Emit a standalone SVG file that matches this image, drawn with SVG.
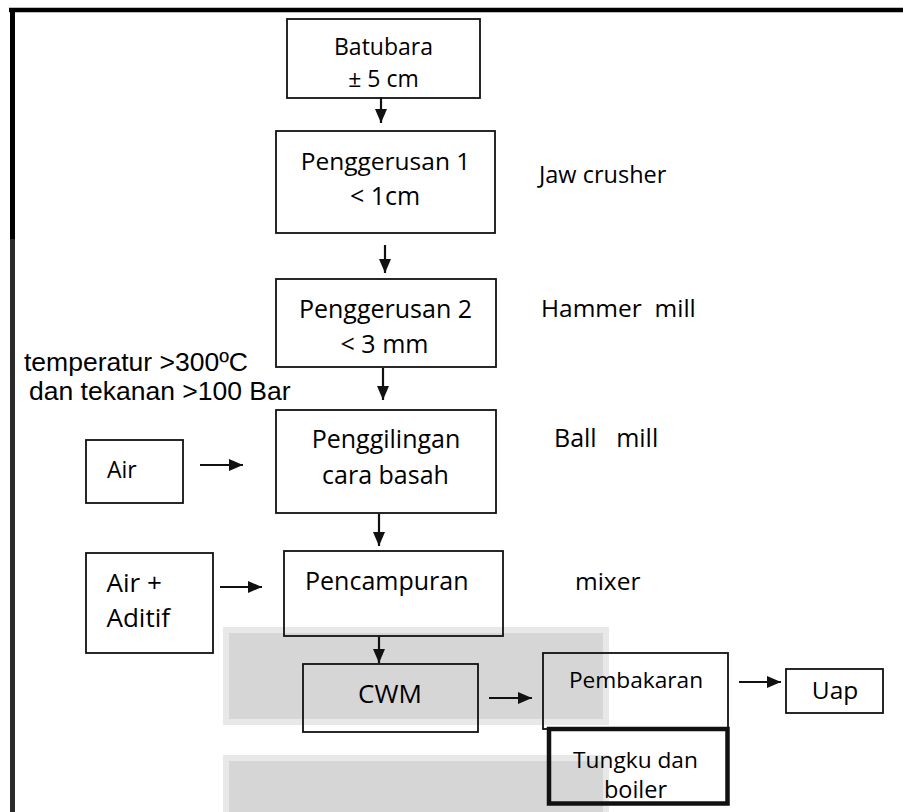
<svg xmlns="http://www.w3.org/2000/svg" width="903" height="812" viewBox="0 0 903 812">
<style>
.bg{fill:#ffffff}
.wm1{fill:#e8e8e8}
.wm2{fill:#d6d6d6}
.box{fill:none;stroke:#111111;stroke-width:1.8}
.thick{fill:none;stroke:#111111;stroke-width:4.5}
.t{font-family:"Open Sans","Noto Sans",sans-serif;font-size:25px;fill:#000000}
.c{text-anchor:middle}
.a{font-family:"Liberation Sans",Arial,sans-serif;font-size:26.5px;fill:#000000}
.pre{white-space:pre}
.con line{stroke:#111111;stroke-width:2.2;marker-end:url(#ah)}
</style>
<defs>
<marker id="ah" markerUnits="userSpaceOnUse" markerWidth="14" markerHeight="12" refX="14" refY="6" orient="auto">
<path d="M0,0 L14,6 L0,12 z" fill="#111111"/>
</marker>
</defs>
<rect class="bg" x="0" y="0" width="903" height="812"/>
<g id="watermark">
<rect class="wm1" x="223" y="627" width="386" height="98"/>
<rect class="wm2" x="229" y="633" width="374" height="86"/>
<rect class="wm1" x="223" y="755" width="386" height="57"/>
<rect class="wm2" x="229" y="761" width="374" height="51"/>
</g>
<g id="frame">
<line x1="9" y1="10" x2="903" y2="10" stroke="#000" stroke-width="4.5"/>
<line x1="12.5" y1="8" x2="12.5" y2="239" stroke="#000" stroke-width="5"/>
<line x1="12.5" y1="239" x2="12.5" y2="812" stroke="#2a2a2a" stroke-width="5"/>
</g>
<g id="batubara">
<rect class="box" x="287" y="19" width="193" height="79"/>
<text class="t c" x="383.5" y="55" style="font-size:23px">Batubara</text>
<text class="t c" x="383.5" y="87" style="font-size:23px">± 5 cm</text>
</g>
<g id="penggerusan1">
<rect class="box" x="276" y="131" width="219" height="102"/>
<text class="t c" x="385.5" y="170" style="font-size:24.5px">Penggerusan 1</text>
<text class="t c" x="385" y="205">&lt; 1cm</text>
</g>
<g id="label-jaw">
<text class="t" x="539" y="183" style="font-size:23.5px">Jaw crusher</text>
</g>
<g id="penggerusan2">
<rect class="box" x="276" y="279" width="220" height="88"/>
<text class="t c" x="385.5" y="317.5">Penggerusan 2</text>
<text class="t c" x="384.5" y="352.5">&lt; 3 mm</text>
</g>
<g id="label-hammer">
<text class="t pre" x="541" y="316.5" style="font-size:24.5px">Hammer  mill</text>
</g>
<g id="label-kondisi">
<text class="a" x="24" y="371">temperatur &gt;300ºC</text>
<text class="a" x="29" y="400">dan tekanan &gt;100 Bar</text>
</g>
<g id="penggilingan">
<rect class="box" x="276" y="410" width="220" height="103"/>
<text class="t c" x="386" y="448">Penggilingan</text>
<text class="t c" x="385.5" y="484">cara basah</text>
</g>
<g id="label-ball">
<text class="t pre" x="554" y="447">Ball   mill</text>
</g>
<g id="air">
<rect class="box" x="86" y="440" width="97" height="63"/>
<text class="t" x="107" y="478" style="font-size:23px">Air</text>
</g>
<g id="air-aditif">
<rect class="box" x="86" y="553" width="127" height="100"/>
<text class="t" x="106.5" y="591.5" style="font-size:26px">Air +</text>
<text class="t" x="106.5" y="627" style="font-size:26px">Aditif</text>
</g>
<g id="pencampuran">
<rect class="box" x="284" y="551" width="219" height="85"/>
<text class="t" x="305" y="590">Pencampuran</text>
</g>
<g id="label-mixer">
<text class="t" x="575" y="590" style="font-size:24.5px">mixer</text>
</g>
<g id="cwm">
<rect class="box" x="303" y="664" width="175" height="68"/>
<text class="t c" x="390" y="702.5" style="font-size:26px">CWM</text>
</g>
<g id="pembakaran">
<rect class="box" x="543" y="653" width="185" height="76"/>
<text class="t c" x="636" y="688" style="font-size:22.7px">Pembakaran</text>
</g>
<g id="uap">
<rect class="box" x="786" y="669" width="97" height="44"/>
<text class="t c" x="835" y="699" style="font-size:24.5px">Uap</text>
</g>
<g id="tungku">
<rect class="thick" x="549" y="729" width="178.5" height="74.5"/>
<text class="t c" x="635.5" y="767.5" style="font-size:22.7px">Tungku dan</text>
<text class="t c" x="635.5" y="798" style="font-size:23.5px">boiler</text>
</g>
<g id="connectors" class="con">
<line x1="381" y1="97" x2="381" y2="123"/>
<line x1="385" y1="245" x2="385" y2="273"/>
<line x1="383" y1="368" x2="383" y2="400"/>
<line x1="379" y1="514" x2="379" y2="546"/>
<line x1="379" y1="637" x2="379" y2="663"/>
<line x1="200" y1="465" x2="243" y2="465"/>
<line x1="220" y1="587" x2="262" y2="587"/>
<line x1="489" y1="698" x2="532" y2="698"/>
<line x1="739" y1="682" x2="781" y2="682"/>
</g>
</svg>
